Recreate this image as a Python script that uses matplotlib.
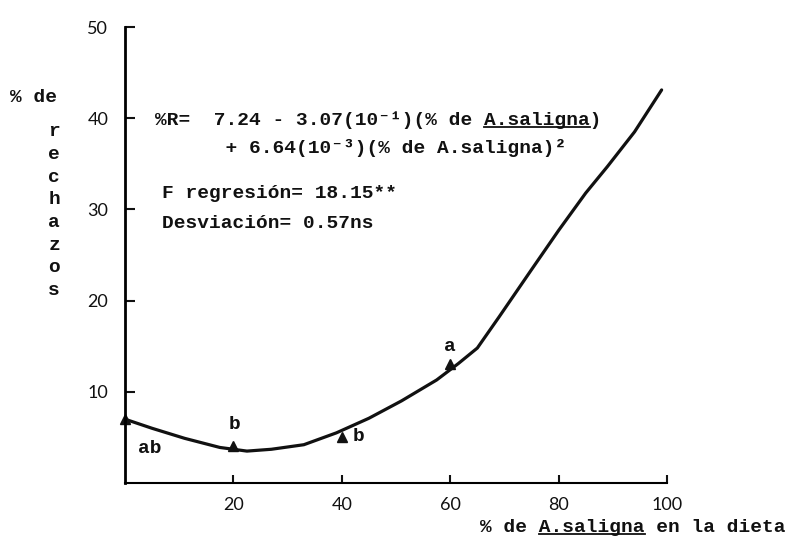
import matplotlib
matplotlib.use("Agg")
import matplotlib.pyplot as plt
from matplotlib.lines import Line2D

# fitted curve
curve_x = [0, 5, 11, 17.5, 22.5, 27, 33, 39, 45, 51, 57.5, 61.5, 65, 69, 75, 80, 85, 89, 94, 99]
curve_y = [7.0, 6.0, 4.9, 3.9, 3.5, 3.7, 4.2, 5.5, 7.1, 9.0, 11.3, 13.1, 14.8, 18.2, 23.4, 27.7, 31.8, 34.7, 38.5, 43.1]

# observed means (triangles) and the letters next to them
obs_x = [0, 20, 40, 60]
obs_y = [7.0, 4.1, 5.1, 13.1]
groups = ['ab', 'b', 'b', 'a']

x_ticks = [20, 40, 60, 80, 100]
y_ticks = [10, 20, 30, 40, 50]

eq_line1 = "%R=  7.24 - 3.07(10⁻¹)(% de A.saligna)"
eq_line2 = "      + 6.64(10⁻³)(% de A.saligna)²"
f_text = "F regresión= 18.15**"
dev_text = "Desviación= 0.57ns"
xlabel = "% de A.saligna en la dieta"
ylabel_top = "% de"
ylabel_letters = "rechazos"

mono = ['Liberation Mono', 'DejaVu Sans Mono']
tw = dict(family=mono, fontsize=14, fontweight='bold', color='#111111')

W, H = 796, 538
fig = plt.figure(figsize=(W / 100, H / 100), dpi=100)
ax = fig.add_axes([0.157, 0.1022, 0.681, 0.8476])

ax.plot(curve_x, curve_y, color='#111111', lw=2.3, solid_capstyle='round',
        solid_joinstyle='round', clip_on=False)
ax.plot(obs_x, obs_y, '^', color='#111111', ms=7, clip_on=False)

# letters of the mean comparison
offsets = [(18, -21), (1, 15), (12, 0), (0, 12)]
for x, y, g, off in zip(obs_x, obs_y, groups, offsets):
    ax.annotate(g, (x, y), xytext=off, textcoords='offset points',
                ha='center', va='center', **tw)

ax.set_xlim(0, 100)
ax.set_ylim(0, 50)
ax.set_xticks(x_ticks)
ax.set_yticks(y_ticks)
ax.spines['top'].set_visible(False)
ax.spines['right'].set_visible(False)
ax.spines['left'].set_linewidth(2.0)
ax.spines['bottom'].set_linewidth(1.5)
ax.tick_params(axis='both', direction='in', width=1.5, colors='#111111', labelsize=13)
ax.tick_params(axis='y', length=7, pad=12)
ax.tick_params(axis='x', length=6, pad=10)
for lab in ax.get_xticklabels() + ax.get_yticklabels():
    lab.set_family('Lato')

# regression text
t1 = ax.text(5.5, 39.8, eq_line1, ha='left', va='center', **tw)
ax.text(5.5, 36.7, eq_line2, ha='left', va='center', **tw)
ax.text(6.9, 31.7, f_text, ha='left', va='center', **tw)
ax.text(6.9, 28.5, dev_text, ha='left', va='center', **tw)

# axis titles
tx = fig.text(480 / W, 1 - 527 / H, xlabel, ha='left', va='center', **tw)
fig.text(10 / W, 1 - 97 / H, ylabel_top, ha='left', va='center', **tw)
for k, ch in enumerate(ylabel_letters):
    fig.text(54 / W, 1 - (132 + k * 22.6) / H, ch, ha='center', va='center', **tw)

# underline the species name (monospace, so the char width is even)
fig.canvas.draw()
rend = fig.canvas.get_renderer()
for t in [t1, tx]:
    s = t.get_text()
    bb = t.get_window_extent(rend)
    cw = bb.width / len(s)
    i = s.index('A.saligna')
    x0 = bb.x0 + i * cw
    x1 = x0 + 9 * cw
    y = bb.y0 + 2
    fig.add_artist(Line2D([x0 / W, x1 / W], [y / H, y / H], transform=fig.transFigure,
                          color='#111111', lw=1.3))

fig.savefig('out.png', dpi=100, facecolor='white')
